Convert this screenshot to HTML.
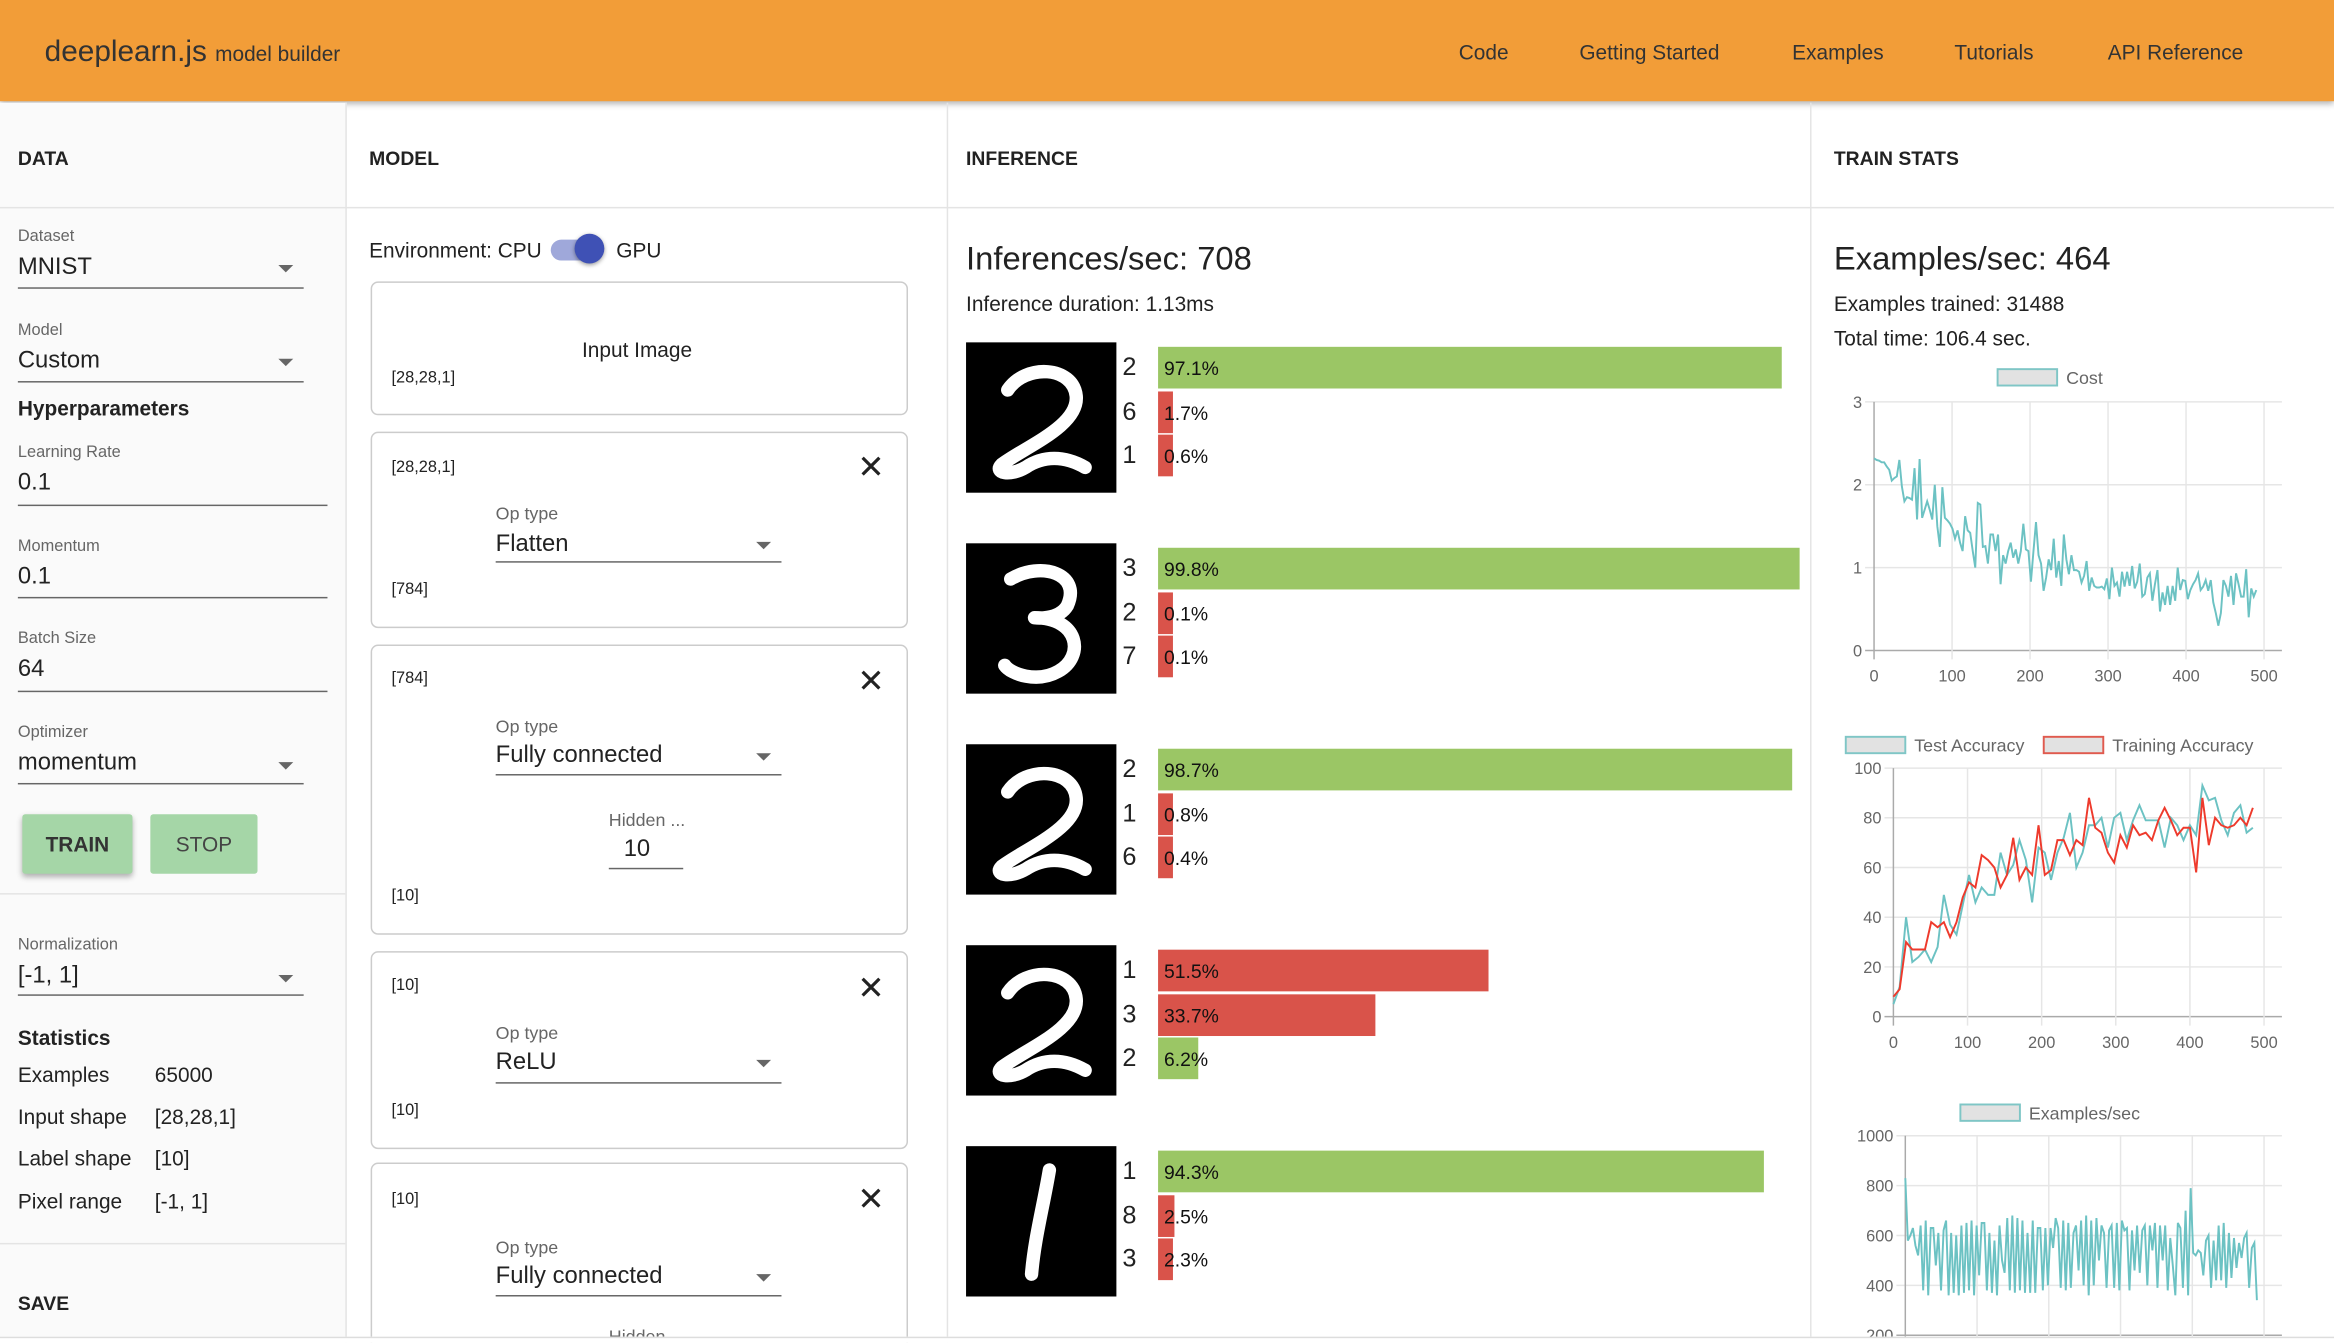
<!DOCTYPE html>
<html><head><meta charset="utf-8">
<style>
html,body{margin:0;padding:0;width:2334px;height:1342px;overflow:hidden;background:#fff;}
#frame{position:absolute;left:0;top:0;width:1568px;height:902px;overflow:hidden;transform:scale(1.48852);transform-origin:0 0;font-family:"Liberation Sans",sans-serif;color:#222;}
.a{position:absolute;white-space:nowrap;}
.hdr{font-weight:bold;font-size:13px;}
.lbl{font-size:11px;color:#666;}
.val{font-size:16px;color:#222;}
.ul{position:absolute;height:1px;background:#666;}
.card{position:absolute;left:249px;width:359px;border:1px solid #ccc;border-radius:5px;background:#fff;}
.sm{font-size:11px;}
.x{font-size:22px;color:#222;}
.tri{position:absolute;width:0;height:0;border-left:5px solid transparent;border-right:5px solid transparent;border-top:5px solid #666;}
.bar{position:absolute;height:28px;}
.pl{font-size:13px;color:#111;}
.dl{font-size:17px;color:#222;}
</style></head><body>
<div id="frame">
<div class="a" style="left:0;top:0;width:1568px;height:68px;background:#f29d38;box-shadow:0 2px 4px rgba(0,0,0,0.3);"></div>
<div class="a" style="left:30px;top:24px;font-size:20px;color:#333;">deeplearn.js <span style="font-size:14px;">model builder</span></div>
<div class="a" style="left:980px;top:27px;font-size:14px;color:#333;">Code</div>
<div class="a" style="left:1061px;top:27px;font-size:14px;color:#333;">Getting Started</div>
<div class="a" style="left:1204px;top:27px;font-size:14px;color:#333;">Examples</div>
<div class="a" style="left:1313px;top:27px;font-size:14px;color:#333;">Tutorials</div>
<div class="a" style="left:1416px;top:27px;font-size:14px;color:#333;">API Reference</div>

<div class="a" style="left:0;top:69px;width:232px;height:833px;background:#fafafa;border-right:1px solid #e4e4e4;"></div>
<div class="a" style="left:636px;top:69px;width:1px;height:833px;background:#e4e4e4;"></div>
<div class="a" style="left:1216px;top:69px;width:1px;height:833px;background:#e4e4e4;"></div>
<div class="a" style="left:0;top:139px;width:1568px;height:1px;background:#e4e4e4;"></div>

<div class="a hdr" style="left:12px;top:99px;">DATA</div>
<div class="a hdr" style="left:248px;top:99px;">MODEL</div>
<div class="a hdr" style="left:649px;top:99px;">INFERENCE</div>
<div class="a hdr" style="left:1232px;top:99px;">TRAIN STATS</div>

<div class="a lbl" style="left:12px;top:153px;">Dataset</div>
<div class="a val" style="left:12px;top:171px;">MNIST</div>
<div class="tri" style="left:187px;top:178px;"></div>
<div class="ul" style="left:12px;top:193px;width:192px;"></div>
<div class="a lbl" style="left:12px;top:216px;">Model</div>
<div class="a val" style="left:12px;top:234px;">Custom</div>
<div class="tri" style="left:187px;top:241px;"></div>
<div class="ul" style="left:12px;top:256px;width:192px;"></div>
<div class="a" style="left:12px;top:266px;font-size:14px;font-weight:bold;">Hyperparameters</div>
<div class="a lbl" style="left:12px;top:298px;">Learning Rate</div>
<div class="a val" style="left:12px;top:316px;">0.1</div>
<div class="ul" style="left:12px;top:339px;width:208px;"></div>
<div class="a lbl" style="left:12px;top:361px;">Momentum</div>
<div class="a val" style="left:12px;top:379px;">0.1</div>
<div class="ul" style="left:12px;top:401px;width:208px;"></div>
<div class="a lbl" style="left:12px;top:423px;">Batch Size</div>
<div class="a val" style="left:12px;top:441px;">64</div>
<div class="ul" style="left:12px;top:464px;width:208px;"></div>
<div class="a lbl" style="left:12px;top:486px;">Optimizer</div>
<div class="a val" style="left:12px;top:504px;">momentum</div>
<div class="tri" style="left:187px;top:512px;"></div>
<div class="ul" style="left:12px;top:526px;width:192px;"></div>
<div class="a" style="left:15px;top:547px;width:74px;height:40px;background:#a5d6a7;box-shadow:0 2px 4px rgba(0,0,0,0.3);border-radius:2px;text-align:center;line-height:40px;font-size:14px;font-weight:bold;color:#333;">TRAIN</div>
<div class="a" style="left:101px;top:547px;width:72px;height:40px;background:#a5d6a7;border-radius:2px;text-align:center;line-height:40px;font-size:14px;color:#444;">STOP</div>
<div class="a" style="left:0;top:600px;width:232px;height:1px;background:#e4e4e4;"></div>
<div class="a lbl" style="left:12px;top:629px;">Normalization</div>
<div class="a val" style="left:12px;top:647px;">[-1, 1]</div>
<div class="tri" style="left:187px;top:655px;"></div>
<div class="ul" style="left:12px;top:668px;width:192px;"></div>
<div class="a" style="left:12px;top:689px;font-size:14px;font-weight:bold;">Statistics</div>
<div class="a" style="left:12px;top:714px;font-size:14px;">Examples<span style="position:absolute;left:92px;">65000</span></div>
<div class="a" style="left:12px;top:742px;font-size:14px;">Input shape<span style="position:absolute;left:92px;">[28,28,1]</span></div>
<div class="a" style="left:12px;top:770px;font-size:14px;">Label shape<span style="position:absolute;left:92px;">[10]</span></div>
<div class="a" style="left:12px;top:799px;font-size:14px;">Pixel range<span style="position:absolute;left:92px;">[-1, 1]</span></div>
<div class="a" style="left:0;top:835px;width:232px;height:1px;background:#e4e4e4;"></div>
<div class="a hdr" style="left:12px;top:868px;">SAVE</div>

<div class="a" style="left:248px;top:160px;font-size:14px;">Environment: CPU</div>
<div class="a" style="left:370px;top:161px;width:34px;height:14px;border-radius:7px;background:#9fa8da;"></div>
<div class="a" style="left:386px;top:157px;width:20px;height:20px;border-radius:10px;background:#3f51b5;box-shadow:0 1px 3px rgba(0,0,0,0.4);"></div>
<div class="a" style="left:414px;top:160px;font-size:14px;">GPU</div>

<div class="card" style="top:189px;height:88px;"></div>
<div class="a" style="left:391px;top:227px;font-size:14px;">Input Image</div>
<div class="a sm" style="left:263px;top:248px;">[28,28,1]</div>

<div class="card" style="top:290px;height:130px;"></div>
<div class="a sm" style="left:263px;top:308px;">[28,28,1]</div>
<div class="a x" style="left:576px;top:301px;">✕</div>
<div class="a lbl" style="left:333px;top:338px;font-size:12px;">Op type</div>
<div class="a val" style="left:333px;top:357px;">Flatten</div>
<div class="tri" style="left:508px;top:364px;"></div>
<div class="ul" style="left:333px;top:377px;width:192px;"></div>
<div class="a sm" style="left:263px;top:390px;">[784]</div>

<div class="card" style="top:433px;height:193px;"></div>
<div class="a sm" style="left:263px;top:450px;">[784]</div>
<div class="a x" style="left:576px;top:445px;">✕</div>
<div class="a lbl" style="left:333px;top:481px;font-size:12px;">Op type</div>
<div class="a val" style="left:333px;top:499px;">Fully connected</div>
<div class="tri" style="left:508px;top:506px;"></div>
<div class="ul" style="left:333px;top:520px;width:192px;"></div>
<div class="a lbl" style="left:409px;top:544px;font-size:12px;">Hidden ...</div>
<div class="a val" style="left:419px;top:562px;">10</div>
<div class="ul" style="left:409px;top:583px;width:50px;"></div>
<div class="a sm" style="left:263px;top:596px;">[10]</div>

<div class="card" style="top:639px;height:131px;"></div>
<div class="a sm" style="left:263px;top:656px;">[10]</div>
<div class="a x" style="left:576px;top:651px;">✕</div>
<div class="a lbl" style="left:333px;top:687px;font-size:12px;">Op type</div>
<div class="a val" style="left:333px;top:705px;">ReLU</div>
<div class="tri" style="left:508px;top:712px;"></div>
<div class="ul" style="left:333px;top:727px;width:192px;"></div>
<div class="a sm" style="left:263px;top:740px;">[10]</div>

<div class="card" style="top:781px;height:160px;"></div>
<div class="a sm" style="left:263px;top:800px;">[10]</div>
<div class="a x" style="left:576px;top:793px;">✕</div>
<div class="a lbl" style="left:333px;top:831px;font-size:12px;">Op type</div>
<div class="a val" style="left:333px;top:849px;">Fully connected</div>
<div class="tri" style="left:508px;top:856px;"></div>
<div class="ul" style="left:333px;top:870px;width:192px;"></div>
<div class="a lbl" style="left:409px;top:891px;font-size:12px;">Hidden ...</div>

<div class="a" style="left:649px;top:161px;font-size:22px;">Inferences/sec: 708</div>
<div class="a" style="left:649px;top:196px;font-size:14px;">Inference duration: 1.13ms</div>
<div id="inf"></div>

<div class="a" style="left:1232px;top:161px;font-size:22px;">Examples/sec: 464</div>
<div class="a" style="left:1232px;top:196px;font-size:14px;">Examples trained: 31488</div>
<div class="a" style="left:1232px;top:219px;font-size:14px;">Total time: 106.4 sec.</div>
<svg class="a" id="charts" style="left:0;top:0;" width="1568" height="898"></svg>
<div class="a" style="left:0;top:898px;width:1568px;height:20px;background:#fff;border-top:1px solid #ddd;z-index:5;"></div>
</div>

<script>
const infDigits = [2,3,2,2,1];
const infLabels = [[2,6,1],[3,2,7],[2,1,6],[1,3,2],[1,8,3]];
const infProbs = [[97.1,1.7,0.6],[99.8,0.1,0.1],[98.7,0.8,0.4],[51.5,33.7,6.2],[94.3,2.5,2.3]];
const infCorrect = [[1,0,0],[1,0,0],[1,0,0],[0,0,1],[1,0,0]];

const costTicksX = [0,100,200,300,400,500];
const costTicksY = [0,1,2,3];
const costValues = [2.32,2.30,2.29,2.27,2.27,2.22,2.18,2.05,2.08,2.1,2.3,1.98,1.8,1.85,1.84,1.82,2.2,1.58,2.31,1.6,1.7,1.8,1.7,1.58,2.0,1.5,1.25,1.97,1.6,1.57,1.53,1.47,1.35,1.45,1.3,1.2,1.62,1.45,1.42,1.2,1.0,1.78,1.76,1.25,1.26,1.05,1.4,1.4,1.2,1.4,0.8,1.15,1.05,1.2,1.3,1.12,1.22,1.05,1.2,1.53,1.22,1.2,0.83,1.2,1.55,1.15,1.05,0.72,0.88,1.1,0.97,1.35,0.88,1.08,0.78,1.4,1.1,0.92,1.15,0.97,0.97,0.95,0.82,0.9,1.08,0.72,0.88,0.78,0.76,0.76,0.77,0.74,0.87,0.62,1.0,0.78,0.82,0.65,0.95,0.77,0.95,0.78,1.02,0.75,0.83,1.05,0.65,0.68,0.88,0.93,0.6,0.8,0.97,0.47,0.7,0.55,0.78,0.55,0.78,0.6,1.0,0.73,0.85,0.84,0.62,0.73,0.8,0.85,0.93,0.73,0.77,0.85,0.72,0.85,0.58,0.45,0.3,0.45,0.85,0.78,0.65,0.9,0.55,0.93,0.8,0.65,0.65,0.98,0.4,0.75,0.65,0.73];
const costMaxX = 490;

const accTicksX = [0,100,200,300,400,500];
const accTicksY = [0,20,40,60,80,100];
const testAcc = [5,12,40,22,24,27,22,28,49,37,33,45,57,46,52,49,49,66,57,61,71,63,46,68,66,55,66,72,82,60,66,77,77,80,68,80,82,71,79,85,79,79,79,68,80,77,71,77,73,93,87,88,79,73,82,85,74,76];
const trainAcc = [8,11,30,27,27,27,38,36,38,32,38,48,54,52,65,63,60,52,57,72,55,60,57,77,57,59,71,71,65,71,69,88,76,74,66,62,73,68,77,73,74,71,79,84,79,73,76,76,58,88,69,80,77,76,77,80,77,84];
const accMaxX = 485;

const epsTicksY = [200,400,600,800,1000];
const epsValues = [830,580,600,630,560,520,640,380,660,360,630,630,480,610,380,620,660,360,610,370,600,360,640,370,650,380,660,360,640,440,650,650,380,610,370,580,360,640,500,450,670,380,680,370,670,380,660,370,610,370,660,370,630,630,380,630,400,630,550,670,630,390,660,380,650,390,610,640,460,660,400,680,360,660,400,670,500,640,610,390,620,640,390,650,380,660,620,630,380,620,460,640,450,620,640,400,640,540,650,390,640,500,640,380,590,480,360,650,630,390,700,360,790,530,520,540,530,440,580,600,390,580,420,640,420,650,390,610,430,590,470,570,510,590,610,390,550,570,340];
const epsMaxX = 490;

const infBox = document.getElementById('inf');
const digitPaths = {
  2:'M28,32 C40,14 72,16 74,36 C76,56 40,70 24,82 C18,88 30,90 40,84 C52,76 66,76 80,84',
  3:'M30,24 C50,12 78,20 68,42 C62,52 46,50 46,50 C76,50 80,76 62,86 C48,94 30,88 26,82',
  1:'M56,16 C52,40 46,62 44,86'
};
const barScale = v => v/100*432;
infDigits.forEach((d,i)=>{
  const top = 230 + i*135;
  const img = document.createElementNS('http://www.w3.org/2000/svg','svg');
  
  
  img.setAttribute('width','101'); img.setAttribute('height','101');
  img.setAttribute('style','position:absolute;left:649px;top:'+top+'px;background:#000;');
  img.innerHTML = '<path d="'+digitPaths[d]+'" fill="none" stroke="#fff" stroke-width="9" stroke-linecap="round" stroke-linejoin="round"/>';
  infBox.appendChild(img);
  infLabels[i].forEach((lab,j)=>{
    const y = top + 3 + j*29.5;
    const l = document.createElement('div');
    
    
    l.className='a dl'; l.style.left='754px'; l.style.top=(y+4)+'px'; l.textContent=lab;
    infBox.appendChild(l);
    const b = document.createElement('div');
    
    
    b.className='bar a'; b.style.left='778px'; b.style.top=y+'px';
    b.style.width=Math.max(barScale(infProbs[i][j]),10)+'px';
    b.style.background = infCorrect[i][j] ? '#9bc665' : '#d9534a';
    infBox.appendChild(b);
    const t = document.createElement('div');
    
    
    t.className='a pl'; t.style.left='782px'; t.style.top=(y+7)+'px'; t.textContent=infProbs[i][j].toFixed(1)+'%';
    infBox.appendChild(t);
  });
});

const svg = document.getElementById('charts');
const NS='http://www.w3.org/2000/svg';
function el(tag, attrs, parent){const e=document.createElementNS(NS,tag);for(const k in attrs)e.setAttribute(k,attrs[k]);(parent||svg).appendChild(e);return e;}
function chart(cfg){
  const sx = v => cfg.x0 + (v-cfg.xmin)/(cfg.xmax-cfg.xmin)*(cfg.x1-cfg.x0);
  const sy = v => cfg.y0 + (v-cfg.ymin)/(cfg.ymax-cfg.ymin)*(cfg.y1-cfg.y0);
  const g = el('g',{});
  
  
  cfg.ticksY.forEach(t=>{
    const ln=el('line',{x1:cfg.x0-6,x2:cfg.gridR,y1:sy(t),y2:sy(t),stroke:t===cfg.ymin?'#aaa':'#e6e6e6','stroke-width':1},g);
    
    const tx=el('text',{x:cfg.x0-8,y:sy(t)+4,'text-anchor':'end','font-size':11,fill:'#666','font-family':'Liberation Sans, sans-serif'},g);
    
    tx.textContent=t;
  });
  if(cfg.ticksX){
    cfg.ticksX.forEach(t=>{
      const ln=el('line',{x1:sx(t),x2:sx(t),y1:cfg.y1,y2:cfg.y0+6,stroke:t===cfg.xmin?'#aaa':'#e6e6e6','stroke-width':1},g);
      
      const tx=el('text',{x:sx(t),y:cfg.y0+21,'text-anchor':'middle','font-size':11,fill:'#666','font-family':'Liberation Sans, sans-serif'},g);
      
      tx.textContent=t;
    });
  } else {
    [0,100,200,300,400,500].forEach(t=>{
      const ln=el('line',{x1:sx(t),x2:sx(t),y1:cfg.y1,y2:cfg.clipBottom,stroke:t===0?'#aaa':'#e6e6e6','stroke-width':1},g);
      
    });
  }
  cfg.series.forEach(s=>{
    const n=s.values.length;
    const pts=s.values.map((v,i)=>sx(i*s.maxX/(n-1)).toFixed(1)+','+sy(v).toFixed(1)).join(' ');
    const p=el('polyline',{points:pts,fill:'none',stroke:s.color,'stroke-width':1.3},g);
    
  });
  cfg.legend.forEach(L=>{
    const r=el('rect',{x:L.x,y:L.y,width:40,height:11,fill:'#e2e2e2',stroke:L.color,'stroke-width':1.3},g);
    
    const tx=el('text',{x:L.x+46,y:L.y+10,'font-size':12,fill:'#666','font-family':'Liberation Sans, sans-serif'},g);
    
    tx.textContent=L.text;
  });
}
chart({name:'cost-chart',x0:1259,x1:1521,xmin:0,xmax:500,y0:437,y1:270,ymin:0,ymax:3,gridR:1533,
  ticksX:costTicksX,ticksY:costTicksY,
  series:[{name:'cost-line',values:costValues,maxX:costMaxX,color:'#6cc2c3'}],
  legend:[{x:1342,y:248,text:'Cost',color:'#7fc6c6'}]});
chart({name:'accuracy-chart',x0:1272,x1:1521,xmin:0,xmax:500,y0:683,y1:516,ymin:0,ymax:100,gridR:1533,
  ticksX:accTicksX,ticksY:accTicksY,
  series:[{name:'test-accuracy-line',values:testAcc,maxX:accMaxX,color:'#6cc2c3'},{name:'training-accuracy-line',values:trainAcc,maxX:accMaxX,color:'#ee3a2c'}],
  legend:[{x:1240,y:495,text:'Test Accuracy',color:'#7fc6c6'},{x:1373,y:495,text:'Training Accuracy',color:'#e05a4e'}]});
chart({name:'examples-per-sec-chart',x0:1280,x1:1521,xmin:0,xmax:500,y0:897,y1:763,ymin:200,ymax:1000,gridR:1533,clipBottom:898,
  ticksX:null,ticksY:epsTicksY,
  series:[{name:'examples-per-sec-line',values:epsValues,maxX:epsMaxX,color:'#6cc2c3'}],
  legend:[{x:1317,y:742,text:'Examples/sec',color:'#7fc6c6'}]});
</script>
</body></html>
